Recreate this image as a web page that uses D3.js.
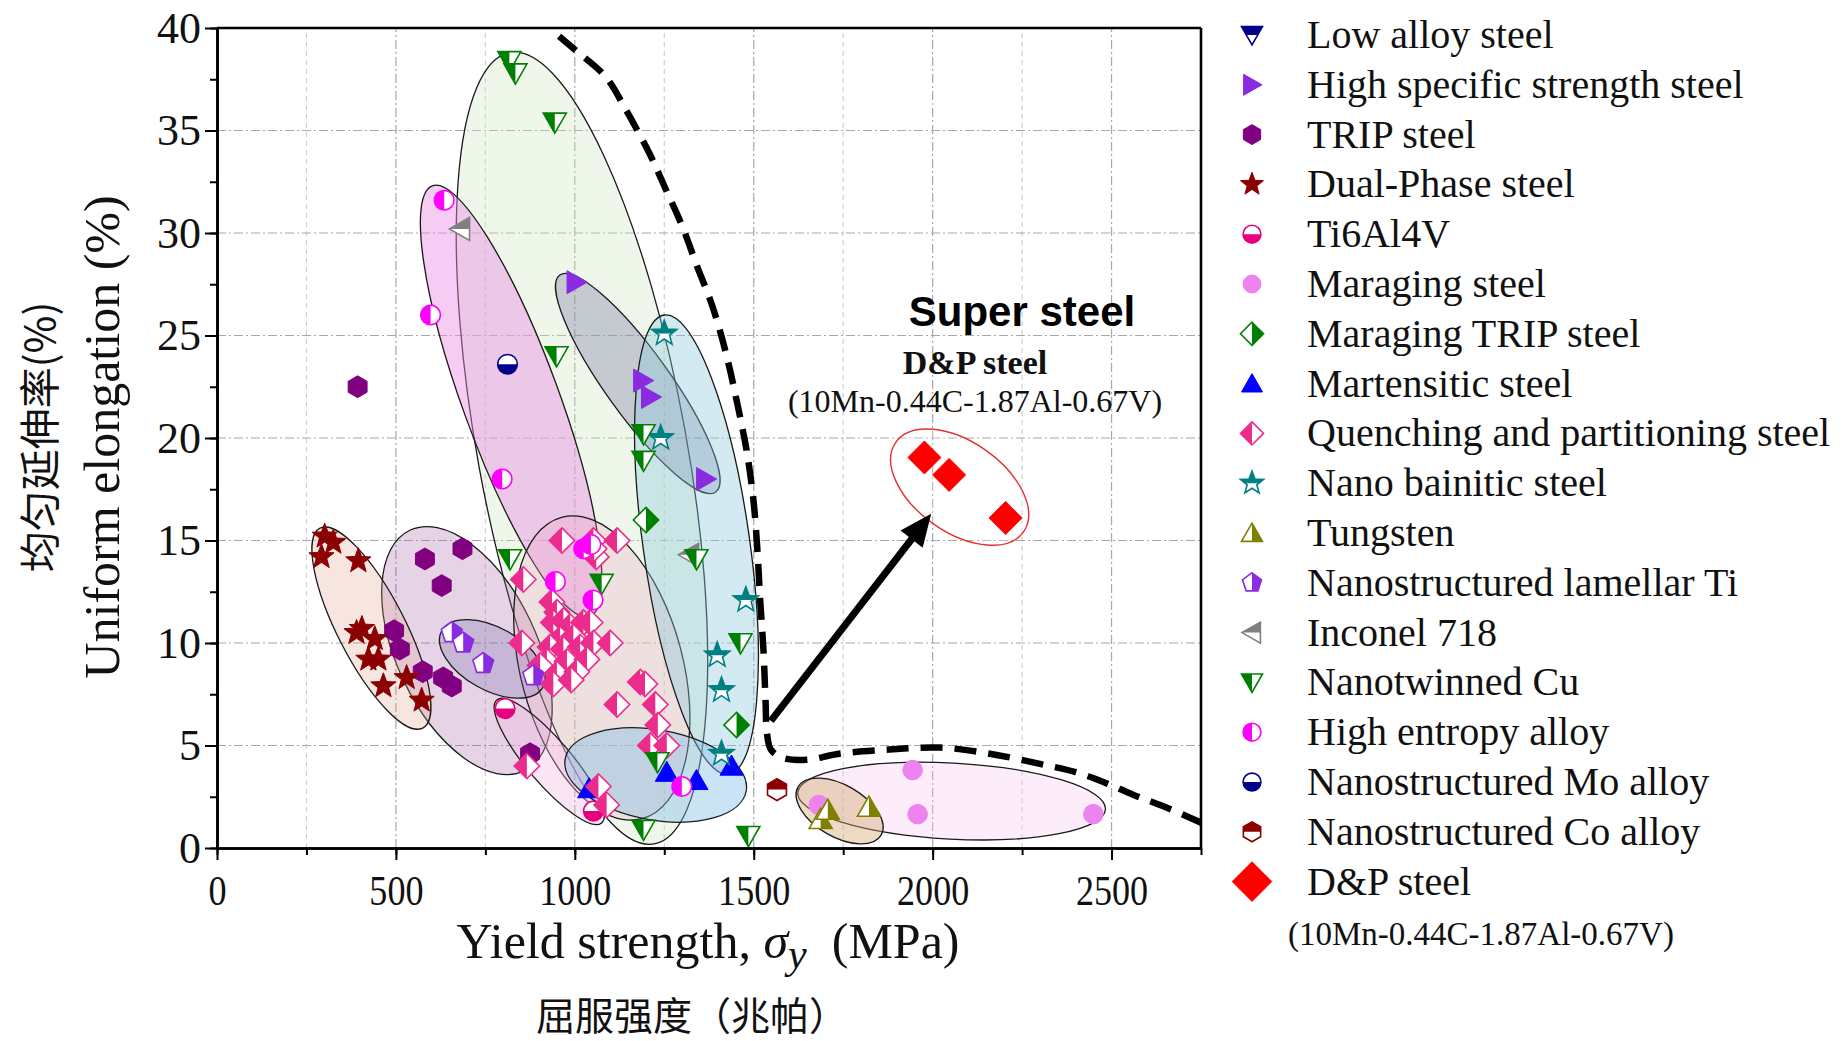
<!DOCTYPE html>
<html>
<head>
<meta charset="utf-8">
<script src="https://cdn.jsdelivr.net/npm/d3@7"></script>
<style>
  body { margin: 0; background: #fff; }
  svg { display: block; }
  .tick text { font-family: "Liberation Serif", "Times New Roman", serif; fill: #111; }
</style>
</head>
<body>
<svg id="chart" width="1841" height="1041"></svg>
<script>
// ---------- Data: yield strength (MPa), uniform elongation (%) ----------
const seriesNames = [
  "Low alloy steel", "High specific strength steel", "TRIP steel", "Dual-Phase steel",
  "Ti6Al4V", "Maraging steel", "Maraging TRIP steel", "Martensitic steel",
  "Quenching and partitioning steel", "Nano bainitic steel", "Tungsten",
  "Nanostructured lamellar Ti", "Inconel 718", "Nanotwinned Cu", "High entropy alloy",
  "Nanostructured Mo alloy", "Nanostructured Co alloy", "D&P steel"
];

const lowAlloySteel = [];
const highSpecificStrengthSteel = [[1004, 27.6], [1190, 22.8], [1212, 22.0], [1366, 18.0]];
const tripSteel = [[393, 22.5], [581, 14.1], [686, 14.6], [628, 12.8], [495, 10.6], [511, 9.7],
  [575, 8.6], [632, 8.3], [656, 7.9], [875, 4.6]];
const dualPhaseSteel = [[301, 15.2], [325, 14.9], [292, 14.2], [395, 14.0], [390, 10.5], [405, 10.7],
  [441, 10.2], [423, 9.2], [451, 9.2], [465, 7.9], [530, 8.3], [572, 7.2]];
const ti6Al4V = [[805, 6.8], [1052, 1.8]];
const maragingSteel = [[1944, 3.8], [1958, 1.65], [2449, 1.65], [1682, 2.1]];
const maragingTripSteel = [[1199, 16.0], [1452, 6.0]];
const martensiticSteel = [[1040, 2.9], [1257, 3.7], [1340, 3.3], [1438, 4.0]];
const qpSteel = [
  [964, 15.0], [1052, 15.0], [1118, 15.0], [1060, 14.2], [1054, 14.6],
  [856, 13.1], [936, 12.0], [950, 11.5], [940, 11.0], [968, 11.1], [987, 10.8], [1024, 11.0], [1043, 11.0],
  [959, 10.2], [996, 10.3], [852, 10.0], [931, 9.8], [968, 9.7], [1015, 9.8], [1052, 10.0], [1099, 10.0],
  [922, 9.1], [978, 9.1], [1034, 9.2], [903, 8.9], [950, 8.5], [1006, 8.6], [940, 8.0], [990, 8.2],
  [1183, 8.1], [1196, 8.0], [1118, 7.0], [1225, 7.0], [1232, 6.0], [1211, 5.0], [1257, 5.0],
  [866, 4.0], [1066, 3.0], [1089, 2.1]
];
const nanoBainiticSteel = [[1250, 25.1], [1240, 20.0], [1478, 12.1], [1398, 9.4], [1410, 7.7], [1410, 4.6]];
const tungsten = [[1687, 1.4], [1707, 1.85], [1822, 2.0]];
const lamellarTi = [[656, 10.5], [688, 10.0], [744, 9.0], [884, 8.4]];
const inconel718 = [[680, 30.2], [1320, 14.3]];
const nanotwinnedCu = [[817, 38.4], [834, 37.8], [944, 35.4], [949, 24.0], [1192, 20.2], [1192, 18.9],
  [819, 14.1], [1075, 12.9], [1340, 14.1], [1463, 10.0], [1231, 4.2], [1192, 0.9], [1485, 0.6]];
const highEntropyAlloy = [[635, 31.6], [597, 26.0], [797, 18.0], [946, 13.0], [1025, 14.6], [1045, 14.8],
  [1051, 12.1], [1299, 3.0]];
const moAlloy = [[812, 23.6]];
const coAlloy = [[1565, 2.85]];
const dpSteel = [[1977, 19.05], [2046, 18.2], [2204, 16.1]];

const seriesValues = [lowAlloySteel, highSpecificStrengthSteel, tripSteel, dualPhaseSteel, ti6Al4V,
  maragingSteel, maragingTripSteel, martensiticSteel, qpSteel, nanoBainiticSteel, tungsten,
  lamellarTi, inconel718, nanotwinnedCu, highEntropyAlloy, moAlloy, coAlloy, dpSteel];

// Grouping ellipses: major-axis end points in data units, minor/major ratio
const regionNames = ["Nanotwinned Cu", "High entropy alloy", "TRIP steel", "Dual-Phase steel",
  "Quenching and partitioning steel", "High specific strength steel", "Nano bainitic steel",
  "Nanostructured lamellar Ti", "Ti6Al4V", "Martensitic steel", "Maraging steel", "Tungsten", "D&P steel"];
const regionAxes = [
  [818, 38.8, 1222, 0.2, 0.26],
  [602, 32.3, 1042, 11.3, 0.21],
  [539, 15.5, 858, 3.76, 0.526],
  [288, 15.6, 575, 5.85, 0.30],
  [963, 16.13, 1188, 1.43, 0.52],
  [958, 27.95, 1394, 17.37, 0.24],
  [1250, 26.0, 1430, 3.6, 0.23],
  [628, 10.6, 911, 7.85, 0.54],
  [782, 7.22, 1075, 1.22, 0.27],
  [973, 4.34, 1479, 2.78, 0.49],
  [1623, 2.69, 2483, 1.89, 0.247],
  [1624, 2.98, 1856, 0.63, 0.54],
  [1897, 19.79, 2254, 15.42, 0.58]
];

// Strength-ductility boundary (dashed) and the arrow toward the D&P steel group
const boundaryCurve = [[956, 39.6], [1003, 38.9], [1087, 37.6], [1143, 36.0], [1208, 33.9], [1255, 32.1],
  [1301, 30.3], [1339, 28.5], [1385, 26.4], [1423, 24.1], [1455, 21.6], [1480, 19.4], [1499, 17.0],
  [1510, 14.6], [1518, 12.1], [1527, 9.7], [1533, 7.2], [1537, 5.6], [1548, 4.8], [1580, 4.4],
  [1647, 4.3], [1739, 4.6], [1879, 4.8], [2020, 4.9], [2160, 4.6], [2300, 4.1], [2400, 3.7],
  [2480, 3.2], [2560, 2.6], [2650, 2.0], [2755, 1.2]];
const arrowFrom = [1548, 6.2];
const arrowTo = [1996, 16.3];

const xTicksMajor = [0, 500, 1000, 1500, 2000, 2500];
const yTicksMajor = [0, 5, 10, 15, 20, 25, 30, 35, 40];

// ---------- Styles ----------
const markerStyles = [
  { shape: "triDown", half: "top", color: "#00008B" },
  { shape: "triRight", half: "full", color: "#8A2BE2" },
  { shape: "hexagon", half: "full", color: "#800080" },
  { shape: "star", half: "full", color: "#8B0000" },
  { shape: "circle", half: "bottom", color: "#E6007E" },
  { shape: "circle", half: "full", color: "#EE82EE" },
  { shape: "diamond", half: "right", color: "#008000" },
  { shape: "triUp", half: "full", color: "#0000FF" },
  { shape: "diamond", half: "left", color: "#EC2C8C" },
  { shape: "star", half: "top", color: "#008080" },
  { shape: "triUp", half: "right", color: "#808000" },
  { shape: "pentagon", half: "right", color: "#8A2BE2" },
  { shape: "triLeft", half: "top", color: "#808080" },
  { shape: "triDown", half: "left", color: "#008000" },
  { shape: "circle", half: "left", color: "#FF00FF" },
  { shape: "circle", half: "bottom", color: "#00008B" },
  { shape: "hexagon", half: "top", color: "#8B0000" },
  { shape: "diamond", half: "full", color: "#FF0000" }
];
const regionFills = [
  "rgba(205,230,190,0.32)", "rgba(235,140,230,0.45)", "rgba(160,90,160,0.26)", "rgba(225,160,145,0.28)",
  "rgba(235,165,190,0.28)", "rgba(100,100,150,0.30)", "rgba(140,200,220,0.38)", "rgba(110,90,170,0.25)",
  "rgba(240,180,225,0.35)", "rgba(130,190,230,0.42)", "rgba(250,200,240,0.32)", "rgba(210,170,110,0.42)",
  "rgba(255,255,255,0.2)"
];

const x = d3.scaleLinear().domain([0, 2750]).range([217, 1201]);
const y = d3.scaleLinear().domain([0, 40]).range([848, 28]);

const svg = d3.select("#chart");
const defs = svg.append("defs");
defs.append("clipPath").attr("id", "plot-area").append("rect")
  .attr("x", x(0)).attr("y", y(40)).attr("width", x(2750) - x(0)).attr("height", y(0) - y(40));
const halves = { left: [-50, -50, 50, 100], right: [0, -50, 50, 100], top: [-50, -50, 100, 50], bottom: [-50, 0, 100, 50] };
Object.entries(halves).forEach(([k, r]) => {
  defs.append("clipPath").attr("id", "half-" + k).append("rect")
    .attr("x", r[0]).attr("y", r[1]).attr("width", r[2]).attr("height", r[3]);
});

// ---------- Grid ----------
const grid = svg.append("g");
d3.range(250, 2750, 250).forEach(v => {
  const major = v % 500 === 0;
  grid.append("line").attr("x1", x(v)).attr("x2", x(v)).attr("y1", y(0)).attr("y2", y(40))
    .attr("stroke", major ? "#a8a8a8" : "#d0d0d0").attr("stroke-width", 1.2)
    .attr("stroke-dasharray", major ? "9,3,2,3" : "5,4");
});
d3.range(5, 40, 5).forEach(v => {
  grid.append("line").attr("x1", x(0)).attr("x2", x(2750)).attr("y1", y(v)).attr("y2", y(v))
    .attr("stroke", "#a8a8a8").attr("stroke-width", 1.2).attr("stroke-dasharray", "9,3,2,3");
});

// ---------- Group ellipses ----------
const plot = svg.append("g").attr("clip-path", "url(#plot-area)");
regionAxes.forEach((r, i) => {
  const p1 = [x(r[0]), y(r[1])], p2 = [x(r[2]), y(r[3])];
  const cx = (p1[0] + p2[0]) / 2, cy = (p1[1] + p2[1]) / 2;
  const a = Math.hypot(p2[0] - p1[0], p2[1] - p1[1]) / 2;
  const ang = Math.atan2(p2[1] - p1[1], p2[0] - p1[0]) * 180 / Math.PI;
  const isDP = regionNames[i] === "D&P steel";
  plot.append("ellipse")
    .attr("cx", cx).attr("cy", cy).attr("rx", a).attr("ry", a * r[4])
    .attr("transform", `rotate(${ang},${cx},${cy})`)
    .attr("fill", regionFills[i])
    .attr("stroke", isDP ? "#E53030" : "#1a1a1a")
    .attr("stroke-width", isDP ? 1.4 : 1.3);
});

// ---------- Boundary & arrow ----------
plot.append("path")
  .datum(boundaryCurve)
  .attr("d", d3.line().x(d => x(d[0])).y(d => y(d[1])).curve(d3.curveCatmullRom.alpha(0.5)))
  .attr("fill", "none").attr("stroke", "#000").attr("stroke-width", 6.5)
  .attr("stroke-dasharray", "22,12");

{
  const s = [x(arrowFrom[0]), y(arrowFrom[1])], e = [x(arrowTo[0]), y(arrowTo[1])];
  const len = Math.hypot(e[0] - s[0], e[1] - s[1]);
  const ux = (e[0] - s[0]) / len, uy = (e[1] - s[1]) / len;
  const headL = 32, headW = 14;
  const bx = e[0] - ux * headL, by = e[1] - uy * headL;
  svg.append("line").attr("x1", s[0]).attr("y1", s[1]).attr("x2", bx + ux * 4).attr("y2", by + uy * 4)
    .attr("stroke", "#000").attr("stroke-width", 7);
  svg.append("polygon").attr("points", [
    [e[0], e[1]], [bx - uy * headW, by + ux * headW], [bx + uy * headW, by - ux * headW]
  ].map(p => p.join(",")).join(" ")).attr("fill", "#000");
}

// ---------- Marker shapes ----------
function poly(pts) { return "M" + pts.map(p => p.join(",")).join("L") + "Z"; }
function regular(n, r, start) {
  return poly(d3.range(n).map(k => {
    const t = (start + k * 360 / n) * Math.PI / 180;
    return [r * Math.cos(t), r * Math.sin(t)];
  }));
}
function starPath(r) {
  return poly(d3.range(10).map(k => {
    const rr = k % 2 ? r * 0.42 : r;
    const t = (-90 + k * 36) * Math.PI / 180;
    return [rr * Math.cos(t), rr * Math.sin(t)];
  }));
}
const shapes = {
  triDown: s => poly([[-s, -0.8 * s], [s, -0.8 * s], [0, 0.95 * s]]),
  triUp: s => poly([[0, -0.95 * s], [s, 0.8 * s], [-s, 0.8 * s]]),
  triRight: s => poly([[-0.8 * s, -s], [0.95 * s, 0], [-0.8 * s, s]]),
  triLeft: s => poly([[0.8 * s, -s], [-0.95 * s, 0], [0.8 * s, s]]),
  hexagon: s => regular(6, s, -90),
  pentagon: s => regular(5, s, -90),
  diamond: s => poly([[0, -s], [s, 0], [0, s], [-s, 0]]),
  circle: s => `M${-s},0A${s},${s} 0 1,0 ${s},0A${s},${s} 0 1,0 ${-s},0Z`,
  star: s => starPath(s * 1.15)
};
const shapeScale = { circle: 0.85, diamond: 1.1, hexagon: 0.95, pentagon: 0.95 };

function drawMarker(parent, px, py, style, size) {
  const g = parent.append("g").attr("transform", `translate(${px},${py})`);
  const d = shapes[style.shape](size * (shapeScale[style.shape] || 1));
  if (style.half === "full") {
    g.append("path").attr("d", d).attr("fill", style.color).attr("stroke", style.color).attr("stroke-width", 1);
  } else {
    g.append("path").attr("d", d).attr("fill", "#fff");
    g.append("path").attr("d", d).attr("fill", style.color).attr("clip-path", `url(#half-${style.half})`);
    g.append("path").attr("d", d).attr("fill", "none").attr("stroke", style.color).attr("stroke-width", 1.6);
  }
}

// ---------- Points ----------
const points = svg.append("g");
seriesValues.forEach((vals, i) => {
  const size = seriesNames[i] === "D&P steel" ? 15 : 11.5;
  vals.forEach(v => drawMarker(points, x(v[0]), y(v[1]), markerStyles[i], size));
});

// ---------- Axes ----------
function styleAxis(g) {
  g.selectAll(".domain").attr("stroke", "#000").attr("stroke-width", 2.6);
  g.selectAll(".tick line").attr("stroke", "#000").attr("stroke-width", 2);
}
svg.append("g").attr("transform", `translate(0,${y(0)})`)
  .call(d3.axisBottom(x).tickValues(d3.range(0, 2751, 250)).tickSize(7).tickSizeOuter(0).tickFormat(""))
  .call(styleAxis);
svg.append("g").attr("transform", `translate(0,${y(0)})`)
  .call(d3.axisBottom(x).tickValues(xTicksMajor).tickSize(12).tickSizeOuter(0).tickPadding(15).tickFormat(d3.format("d")))
  .call(styleAxis)
  .call(g => g.selectAll(".tick text").attr("font-size", 42).attr("transform", "scale(0.86,1)"));
svg.append("g").attr("transform", `translate(${x(0)},0)`)
  .call(d3.axisLeft(y).tickValues(d3.range(0, 40.1, 2.5)).tickSize(7).tickSizeOuter(0).tickFormat(""))
  .call(styleAxis);
svg.append("g").attr("transform", `translate(${x(0)},0)`)
  .call(d3.axisLeft(y).tickValues(yTicksMajor).tickSize(12).tickSizeOuter(0).tickPadding(4).tickFormat(d3.format("d")))
  .call(styleAxis)
  .call(g => g.selectAll(".tick text").attr("font-size", 44));
// top and right frame
svg.append("line").attr("x1", x(0)).attr("x2", x(2750)).attr("y1", y(40)).attr("y2", y(40))
  .attr("stroke", "#000").attr("stroke-width", 2.6);
svg.append("line").attr("x1", x(2750)).attr("x2", x(2750)).attr("y1", y(40)).attr("y2", y(0))
  .attr("stroke", "#000").attr("stroke-width", 2.6);

// ---------- Axis titles ----------
const serif = "'Liberation Serif', 'Times New Roman', serif";
const cjk = "'Noto Sans CJK SC', sans-serif";
const xt = svg.append("text").attr("x", 708).attr("y", 958).attr("text-anchor", "middle")
  .attr("font-family", serif).attr("font-size", 50).attr("fill", "#111");
xt.append("tspan").text("Yield strength, ");
xt.append("tspan").attr("font-style", "italic").text("σ");
xt.append("tspan").attr("font-style", "italic").attr("font-size", 42).attr("dy", 10).text("y");
xt.append("tspan").attr("dy", -10).text("\u00a0 (MPa)");
svg.append("text").attr("x", 692).attr("y", 1030).attr("text-anchor", "middle")
  .attr("font-family", cjk).attr("font-size", 39).attr("fill", "#111").text("屈服强度（兆帕）");
svg.append("text").attr("transform", "translate(119,437) rotate(-90)").attr("text-anchor", "middle")
  .attr("font-family", serif).attr("font-size", 50).attr("fill", "#111").text("Uniform elongation (%)");
svg.append("text").attr("transform", "translate(55,437) rotate(-90)").attr("text-anchor", "middle")
  .attr("font-family", cjk).attr("font-size", 41).attr("fill", "#111").text("均匀延伸率(%)");

// ---------- Annotation text ----------
svg.append("text").attr("x", 1022).attr("y", 326).attr("text-anchor", "middle")
  .attr("font-family", "'Liberation Sans', Arial, sans-serif").attr("font-weight", "bold")
  .attr("font-size", 42).attr("fill", "#000").text("Super steel");
svg.append("text").attr("x", 975).attr("y", 374).attr("text-anchor", "middle")
  .attr("font-family", serif).attr("font-weight", "bold").attr("font-size", 34).attr("fill", "#111").text("D&P steel");
svg.append("text").attr("x", 975).attr("y", 412).attr("text-anchor", "middle")
  .attr("font-family", serif).attr("font-size", 32).attr("fill", "#111").text("(10Mn-0.44C-1.87Al-0.67V)");

// ---------- Legend ----------
const legend = svg.append("g");
seriesNames.forEach((name, i) => {
  const cy = 35 + i * 49.8;
  const size = name === "D&P steel" ? 18 : 10.5;
  drawMarker(legend, 1252, cy, markerStyles[i], size);
  legend.append("text").attr("x", 1307).attr("y", cy + 13)
    .attr("font-family", serif).attr("font-size", 40).attr("fill", "#111").text(name);
});
legend.append("text").attr("x", 1288).attr("y", 945)
  .attr("font-family", serif).attr("font-size", 33).attr("fill", "#111").text("(10Mn-0.44C-1.87Al-0.67V)");
</script>
</body>
</html>
